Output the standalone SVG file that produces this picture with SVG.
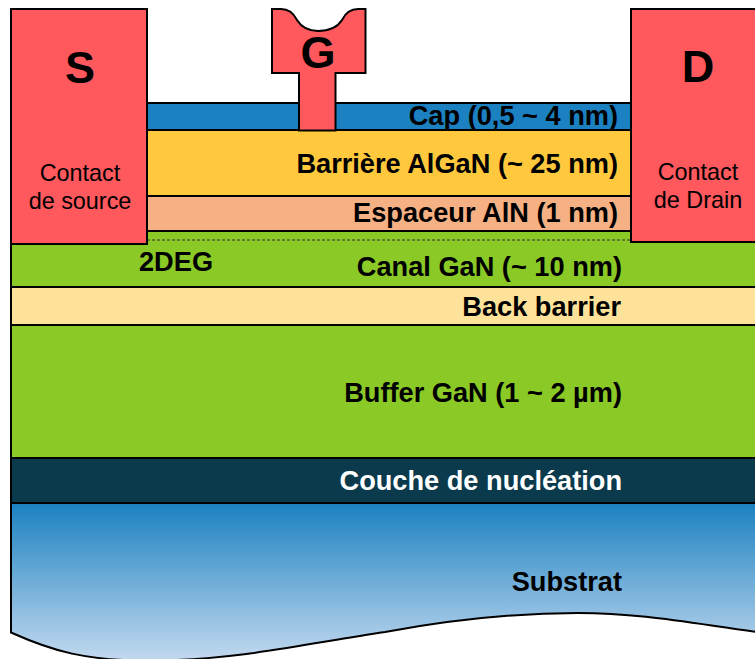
<svg xmlns="http://www.w3.org/2000/svg" width="755" height="659" viewBox="0 0 755 659">
<style>
.l{stroke:#000;stroke-width:2}
.c{fill:#ff585d;stroke:#000;stroke-width:2}
text{font-family:"Liberation Sans",Arial,sans-serif;fill:#000}
.b{font-weight:bold;font-size:27.2px;text-anchor:end}
.s{font-size:23.4px;text-anchor:middle}
.t{font-weight:bold;font-size:45px;text-anchor:middle}
</style>
<defs><linearGradient id="sub" x1="0" y1="0" x2="0" y2="1"><stop offset="0" stop-color="#1b81c1"/><stop offset="1" stop-color="#c3d9ef"/></linearGradient></defs>
<rect width="755" height="659" fill="#fff"/>
<g id="substrate">
<path d="M11 503H757V632C690 623 640 613 578 613C520 613 460 618 385 632C300 645 240 659 160 660.5C85 662 50 650 11 632.5Z" fill="url(#sub)" stroke="#000" stroke-width="2"/>
<text class="b" x="622" y="591">Substrat</text>
</g>
<g id="cap"><rect class="l" x="100" y="103" width="660" height="27" fill="#1b81c1"/><text class="b" x="618" y="125">Cap (0,5 ~ 4 nm)</text></g>
<g id="barriere"><rect class="l" x="100" y="130" width="660" height="66" fill="#ffc83d"/><text class="b" x="618" y="173">Barrière AlGaN (~ 25 nm)</text></g>
<g id="espaceur"><rect class="l" x="100" y="196" width="660" height="35" fill="#f5b183"/><text class="b" x="618" y="222">Espaceur AlN (1 nm)</text></g>
<g id="canal"><rect class="l" x="11" y="231" width="750" height="56" fill="#8ac926"/><text class="b" x="622" y="276">Canal GaN (~ 10 nm)</text><text x="139" y="271" font-size="27.2" font-weight="bold">2DEG</text></g>
<g id="back-barrier"><rect class="l" x="11" y="287" width="750" height="38" fill="#ffe299"/><text class="b" x="621" y="316">Back barrier</text></g>
<g id="buffer"><rect class="l" x="11" y="325" width="750" height="133" fill="#8ac926"/><text class="b" x="622" y="402">Buffer GaN (1 ~ 2 µm)</text></g>
<g id="nucleation"><rect class="l" x="11" y="458" width="750" height="45" fill="#0a3a4c"/><text class="b" x="622" y="490" style="fill:#fff">Couche de nucléation</text></g>
<g id="connectors">
<path d="M147 240H631" fill="none" stroke="#333" stroke-width="1" stroke-dasharray="3 2"/>
</g>
<g id="source"><rect class="c" x="11" y="9" width="136" height="235"/><text class="t" x="80" y="83">S</text><text class="s" x="80" y="181">Contact</text><text class="s" x="80" y="209">de source</text></g>
<g id="drain"><rect class="c" x="631" y="9" width="130" height="233"/><text class="t" x="698" y="82">D</text><text class="s" x="698" y="180">Contact</text><text class="s" x="698" y="208">de Drain</text></g>
<g id="gate"><path class="c" d="M272 9H281C290 9 294 14 297 20C302 28 310 31 318 31C327 31 337 28 342 20C345 14 349 9 358 9H365.5V73H335.5V130.5H299V73H272Z"/><text class="t" x="318" y="68">G</text></g>
</svg>
